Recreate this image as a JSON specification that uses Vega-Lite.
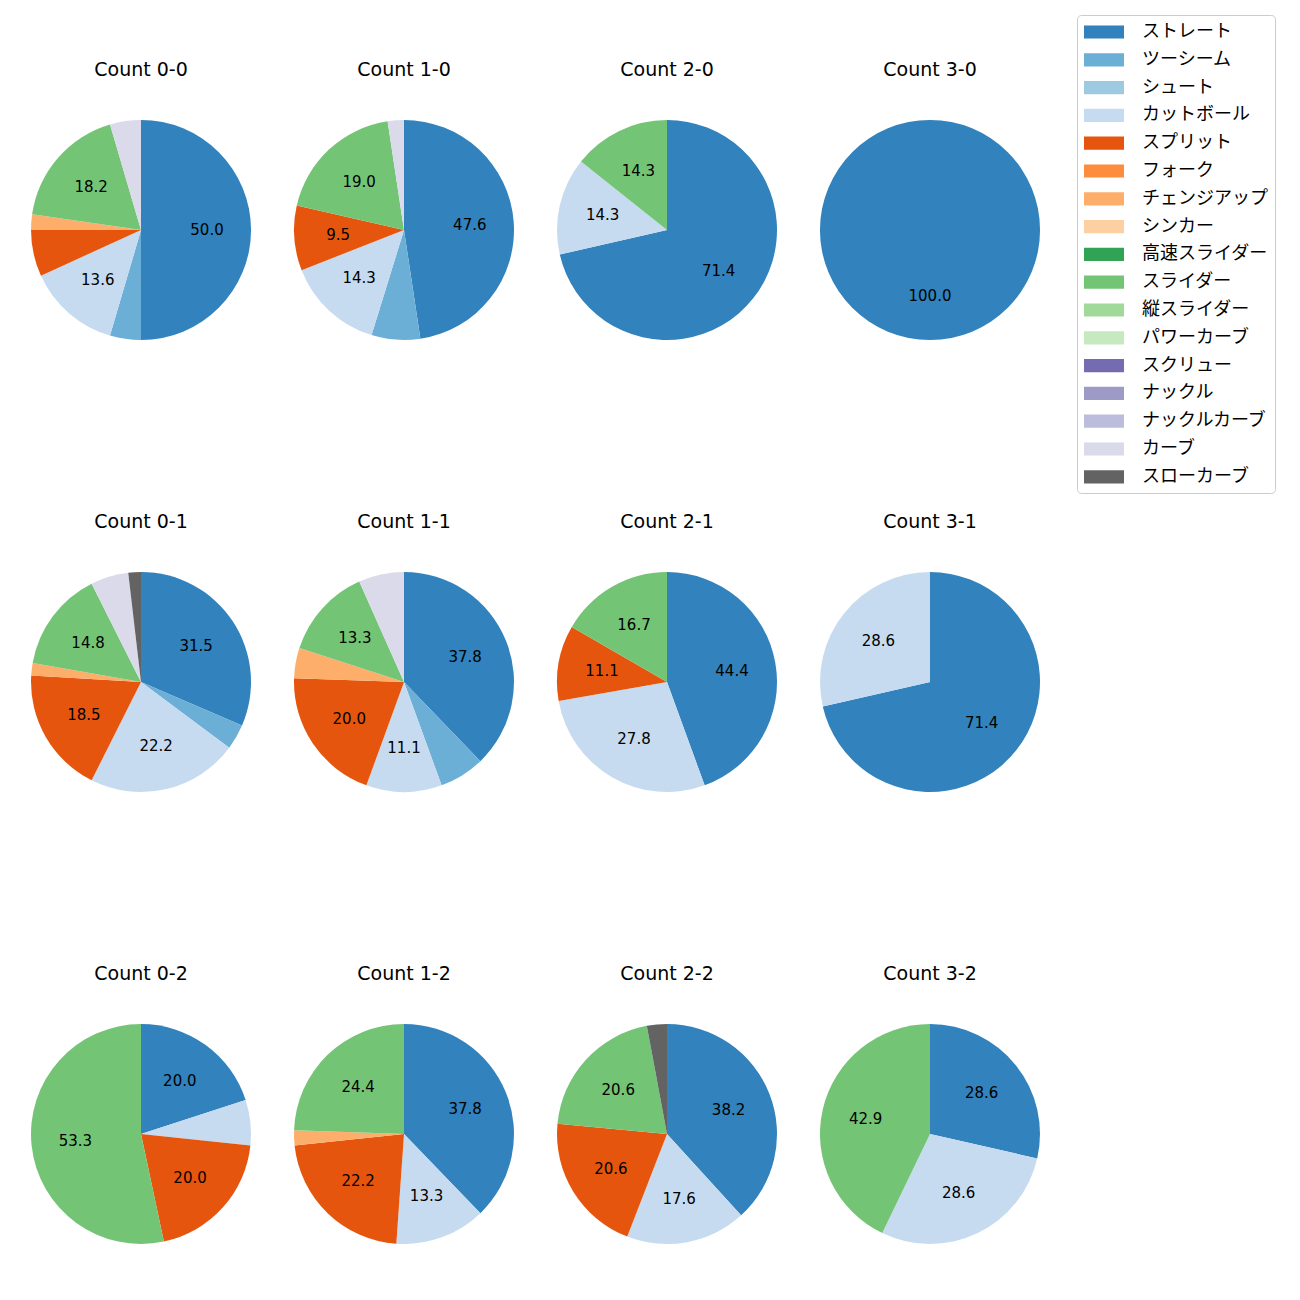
{
  "$schema": "https://vega.github.io/schema/vega-lite/v6.json",
  "padding": {"left": 31, "top": 14, "right": 5, "bottom": 5},
  "background": "white",
  "config": {
    "font": "Noto Sans CJK JP",
    "view": {"stroke": null},
    "legend": {
      "orient": "none",
      "legendX": 1046,
      "legendY": -105,
      "strokeColor": "#cccccc",
      "cornerRadius": 4,
      "padding": 7,
      "labelFontSize": 18,
      "labelFont": "Noto Sans CJK JP",
      "labelColor": "#000000",
      "rowPadding": 8.8,
      "symbolOffset": 10,
      "labelOffset": 28,
      "symbolSize": 400,
      "symbolType": "M-2,-0.66L2,-0.66L2,0.66L-2,0.66Z",
      "symbolStrokeWidth": 0,
      "fillColor": "white"
    }
  },
  "data": {"values": [
    {"count": "0-0", "pitch": "ストレート", "n": 22},
    {"count": "0-0", "pitch": "ツーシーム", "n": 2},
    {"count": "0-0", "pitch": "カットボール", "n": 6},
    {"count": "0-0", "pitch": "スプリット", "n": 3},
    {"count": "0-0", "pitch": "チェンジアップ", "n": 1},
    {"count": "0-0", "pitch": "スライダー", "n": 8},
    {"count": "0-0", "pitch": "カーブ", "n": 2},
    {"count": "1-0", "pitch": "ストレート", "n": 20},
    {"count": "1-0", "pitch": "ツーシーム", "n": 3},
    {"count": "1-0", "pitch": "カットボール", "n": 6},
    {"count": "1-0", "pitch": "スプリット", "n": 4},
    {"count": "1-0", "pitch": "スライダー", "n": 8},
    {"count": "1-0", "pitch": "カーブ", "n": 1},
    {"count": "2-0", "pitch": "ストレート", "n": 5},
    {"count": "2-0", "pitch": "カットボール", "n": 1},
    {"count": "2-0", "pitch": "スライダー", "n": 1},
    {"count": "3-0", "pitch": "ストレート", "n": 1},
    {"count": "0-1", "pitch": "ストレート", "n": 17},
    {"count": "0-1", "pitch": "ツーシーム", "n": 2},
    {"count": "0-1", "pitch": "カットボール", "n": 12},
    {"count": "0-1", "pitch": "スプリット", "n": 10},
    {"count": "0-1", "pitch": "チェンジアップ", "n": 1},
    {"count": "0-1", "pitch": "スライダー", "n": 8},
    {"count": "0-1", "pitch": "カーブ", "n": 3},
    {"count": "0-1", "pitch": "スローカーブ", "n": 1},
    {"count": "1-1", "pitch": "ストレート", "n": 17},
    {"count": "1-1", "pitch": "ツーシーム", "n": 3},
    {"count": "1-1", "pitch": "カットボール", "n": 5},
    {"count": "1-1", "pitch": "スプリット", "n": 9},
    {"count": "1-1", "pitch": "チェンジアップ", "n": 2},
    {"count": "1-1", "pitch": "スライダー", "n": 6},
    {"count": "1-1", "pitch": "カーブ", "n": 3},
    {"count": "2-1", "pitch": "ストレート", "n": 8},
    {"count": "2-1", "pitch": "カットボール", "n": 5},
    {"count": "2-1", "pitch": "スプリット", "n": 2},
    {"count": "2-1", "pitch": "スライダー", "n": 3},
    {"count": "3-1", "pitch": "ストレート", "n": 5},
    {"count": "3-1", "pitch": "カットボール", "n": 2},
    {"count": "0-2", "pitch": "ストレート", "n": 3},
    {"count": "0-2", "pitch": "カットボール", "n": 1},
    {"count": "0-2", "pitch": "スプリット", "n": 3},
    {"count": "0-2", "pitch": "スライダー", "n": 8},
    {"count": "1-2", "pitch": "ストレート", "n": 17},
    {"count": "1-2", "pitch": "カットボール", "n": 6},
    {"count": "1-2", "pitch": "スプリット", "n": 10},
    {"count": "1-2", "pitch": "チェンジアップ", "n": 1},
    {"count": "1-2", "pitch": "スライダー", "n": 11},
    {"count": "2-2", "pitch": "ストレート", "n": 13},
    {"count": "2-2", "pitch": "カットボール", "n": 6},
    {"count": "2-2", "pitch": "スプリット", "n": 7},
    {"count": "2-2", "pitch": "スライダー", "n": 7},
    {"count": "2-2", "pitch": "スローカーブ", "n": 1},
    {"count": "3-2", "pitch": "ストレート", "n": 2},
    {"count": "3-2", "pitch": "カットボール", "n": 2},
    {"count": "3-2", "pitch": "スライダー", "n": 3}
  ]},
  "transform": [
    {"joinaggregate": [{"op": "sum", "field": "n", "as": "total"}], "groupby": ["count"]},
    {"calculate": "100 * datum.n / datum.total", "as": "pct"},
    {"calculate": "datum.pct >= 8 ? format(datum.pct, '.1f') : ''", "as": "label"},
    {"calculate": "indexof(['ストレート','ツーシーム','シュート','カットボール','スプリット','フォーク','チェンジアップ','シンカー','高速スライダー','スライダー','縦スライダー','パワーカーブ','スクリュー','ナックル','ナックルカーブ','カーブ','スローカーブ'], datum.pitch)", "as": "ord"}
  ],
  "facet": {
    "field": "count",
    "type": "nominal",
    "sort": ["0-0","1-0","2-0","3-0","0-1","1-1","2-1","3-1","0-2","1-2","2-2","3-2"],
    "header": {
      "title": null,
      "labelExpr": "'Count ' + datum.value",
      "labelFontSize": 19,
      "labelFont": "DejaVu Sans",
      "labelColor": "#000000",
      "labelPadding": 40
    }
  },
  "columns": 4,
  "spacing": {"column": 43, "row": 173},
  "spec": {
    "width": 220,
    "height": 220,
    "encoding": {
      "theta": {"field": "n", "type": "quantitative", "stack": "normalize"},
      "order": {"field": "ord", "type": "quantitative", "sort": "ascending"}
    },
    "layer": [
      {
        "mark": {"type": "arc", "outerRadius": 110},
        "encoding": {
          "color": {
            "field": "pitch",
            "type": "nominal",
            "title": null,
            "scale": {
              "domain": ["ストレート","ツーシーム","シュート","カットボール","スプリット","フォーク","チェンジアップ","シンカー","高速スライダー","スライダー","縦スライダー","パワーカーブ","スクリュー","ナックル","ナックルカーブ","カーブ","スローカーブ"],
              "range": ["#3182bd","#6baed6","#9ecae1","#c6dbef","#e6550d","#fd8d3c","#fdae6b","#fdd0a2","#31a354","#74c476","#a1d99b","#c7e9c0","#756bb1","#9e9ac8","#bcbddc","#dadaeb","#636363"]
            }
          }
        }
      },
      {
        "mark": {"type": "text", "radius": 66, "fontSize": 15, "font": "DejaVu Sans", "color": "#000000"},
        "encoding": {"text": {"field": "label", "type": "nominal"}}
      }
    ]
  }
}
